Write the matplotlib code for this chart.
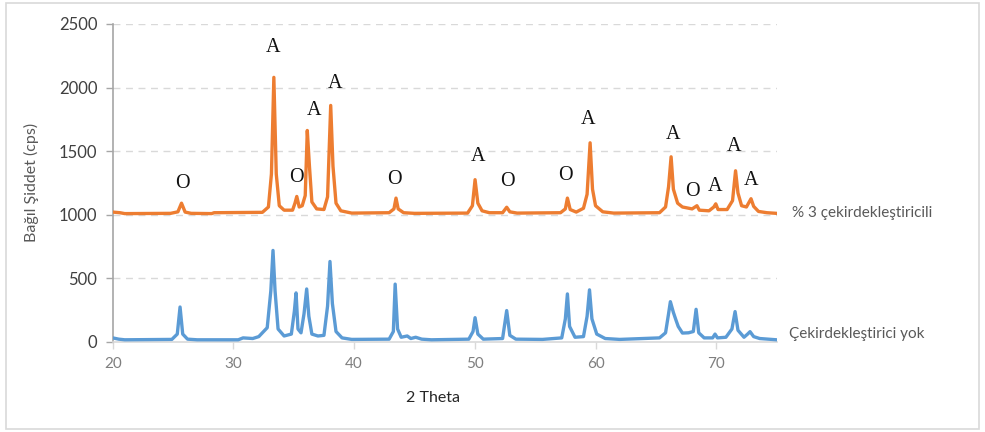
import matplotlib
matplotlib.use("Agg")
import matplotlib.pyplot as plt
from matplotlib.patches import Rectangle

# XRD pattern with 3 % nucleating agent (plotted with +1000 cps offset)
x_nucleated = [20.0, 20.6, 21.0, 24.8, 25.4, 25.7, 26.0, 26.5, 28.2, 28.4, 32.4, 32.9, 33.15, 33.35,
               33.55, 33.8, 34.2, 34.9, 35.1, 35.25, 35.45, 35.7, 35.95, 36.12, 36.3, 36.5, 36.9,
               37.5, 37.8, 38.06, 38.25, 38.5, 38.9, 39.8, 42.9, 43.3, 43.47, 43.65, 44.1, 45.0,
               49.4, 49.8, 50.02, 50.25, 50.6, 51.2, 52.3, 52.64, 52.9, 53.5, 57.1, 57.5, 57.67,
               57.9, 58.4, 59.0, 59.3, 59.55, 59.75, 60.0, 60.6, 61.5, 65.3, 65.8, 66.05, 66.26,
               66.45, 66.8, 67.2, 68.0, 68.4, 68.6, 69.4, 69.8, 69.96, 70.15, 70.9, 71.35, 71.6,
               71.8, 72.1, 72.5, 72.88, 73.1, 73.5, 74.2, 75.0]
y_nucleated = [1020, 1015, 1008, 1010, 1022, 1090, 1020, 1010, 1008, 1015, 1018, 1060, 1320, 2080,
               1320, 1070, 1035, 1035, 1090, 1143, 1060, 1070, 1150, 1662, 1380, 1100, 1045,
               1040, 1140, 1859, 1380, 1090, 1030, 1012, 1015, 1045, 1130, 1045, 1015, 1010,
               1012, 1070, 1275, 1090, 1030, 1015, 1015, 1058, 1022, 1012, 1015, 1045, 1130,
               1040, 1020, 1050, 1160, 1565, 1200, 1070, 1022, 1012, 1015, 1060, 1220, 1455,
               1200, 1090, 1060, 1045, 1070, 1035, 1030, 1060, 1085, 1040, 1040, 1110, 1345,
               1170, 1070, 1060, 1125, 1065, 1025, 1015, 1010]

# XRD pattern without nucleating agent
x_plain = [20.0, 20.5, 21.0, 24.9, 25.35, 25.58, 25.8, 26.2, 27.0, 30.4, 30.8, 31.6, 32.1, 32.8,
           33.1, 33.28, 33.45, 33.7, 34.2, 34.8, 35.05, 35.19, 35.35, 35.6, 35.85, 36.07, 36.25,
           36.5, 37.0, 37.5, 37.8, 38.0, 38.2, 38.5, 39.0, 39.8, 42.9, 43.25, 43.4, 43.6, 43.9,
           44.4, 44.7, 45.1, 45.6, 46.4, 49.5, 49.85, 50.02, 50.25, 50.7, 52.3, 52.64, 52.9,
           53.4, 55.6, 57.2, 57.5, 57.67, 57.85, 58.3, 59.0, 59.3, 59.5, 59.7, 60.1, 60.8, 62.0,
           65.3, 65.8, 66.05, 66.2, 66.45, 66.66, 66.85, 67.2, 67.7, 68.1, 68.33, 68.55, 69.0,
           69.7, 69.9, 70.1, 70.8, 71.3, 71.56, 71.8, 72.3, 72.6, 72.8, 73.1, 73.6, 74.3, 75.0]
y_plain = [30, 20, 15, 18, 60, 273, 60, 20, 15, 15, 30, 25, 40, 110,
           400, 718, 400, 100, 45, 60, 240, 384, 100, 70, 220, 415, 200,
           60, 45, 50, 280, 631, 300, 80, 30, 18, 20, 80, 453, 100, 35,
           45, 25, 35, 20, 15, 20, 80, 189, 60, 20, 25, 245, 50,
           20, 18, 30, 180, 376, 120, 35, 40, 200, 408, 180, 60, 25, 18,
           30, 70, 220, 315, 230, 171, 120, 68, 70, 80, 255, 70, 30,
           30, 60, 30, 35, 100, 237, 90, 35, 60, 79, 40, 25, 20, 15]

series_names = ["% 3 çekirdekleştiricili", "Çekirdekleştirici yok"]

# Phase labels above the peaks of the nucleated pattern
phase_labels = ["O", "A", "O", "A", "A", "O", "A", "O", "O", "A", "A", "O", "A", "A", "A"]
phase_x = [25.8, 33.3, 35.2, 36.7, 38.4, 43.3, 50.3, 52.7, 57.5, 59.4, 66.4, 68.0, 69.9, 71.5, 72.9]
phase_y = [1244, 2316, 1291, 1820, 2032, 1275, 1457, 1260, 1307, 1749, 1630, 1180, 1219, 1535, 1267]

y_ticks = [0, 500, 1000, 1500, 2000, 2500]
x_ticks = [20, 30, 40, 50, 60, 70]

plt.rcParams['font.family'] = ['Lato', 'DejaVu Sans']

fig = plt.figure(figsize=(9.85, 4.32), dpi=100)
ax = fig.add_axes([112.7 / 985, 1 - 341.7 / 432, (776.6 - 112.7) / 985, (341.7 - 24) / 432])

# chart frame
fig.patches.append(Rectangle((6 / 985, 3 / 432), 973 / 985, 426 / 432, transform=fig.transFigure,
                             fill=False, edgecolor="#d9d9d9", linewidth=1.2))

orange = "#ED7D31"
blue = "#5B9BD5"
ax.plot(x_plain, y_plain, color=blue, lw=2.4, solid_joinstyle="round", zorder=3)
ax.plot(x_nucleated, y_nucleated, color=orange, lw=2.4, solid_joinstyle="round", zorder=3)

ax.set_xlim(20, 75)
ax.set_ylim(0, 2500)
ax.set_xticks(x_ticks)
ax.set_yticks(y_ticks)
ax.set_xticklabels([str(t) for t in x_ticks])
ax.set_yticklabels([str(t) for t in y_ticks])

for t in y_ticks[1:]:
    ax.axhline(t, color="#d9d9d9", lw=1.0, dashes=(5, 4), zorder=1)

for s in ("top", "right"):
    ax.spines[s].set_visible(False)
ax.spines["left"].set_color("#a6a6a6")
ax.spines["left"].set_linewidth(1.2)
ax.spines["bottom"].set_color("#d9d9d9")
ax.spines["bottom"].set_linewidth(1.2)
ax.tick_params(axis="y", length=5, width=1, color="#a6a6a6", labelsize=12,
               labelcolor="#404040", pad=6)
ax.tick_params(axis="x", length=5, width=1, color="#d9d9d9", labelsize=11,
               labelcolor="#7f7f7f", pad=6)

ax.set_xlabel("2 Theta", fontsize=11.5, color="#262626")
ax.xaxis.set_label_coords((433 - 112.7) / (776.6 - 112.7), -(391 - 341.7) / (341.7 - 24))
ax.set_ylabel("Bağıl Şiddet (cps)", fontsize=11.5, color="#595959", labelpad=14)

for lab, px, py in zip(phase_labels, phase_x, phase_y):
    ax.text(px, py, lab, ha="center", va="center", fontsize=14.5,
            family=["Liberation Serif", "DejaVu Serif"], color="#111111", zorder=4)

ax.text(76.3, 1013, series_names[0], ha="left", va="center", fontsize=11,
        color="#595959", clip_on=False)
ax.text(76.0, 60, series_names[1], ha="left", va="center", fontsize=11,
        color="#595959", clip_on=False)

fig.savefig("out.png", dpi=100)
